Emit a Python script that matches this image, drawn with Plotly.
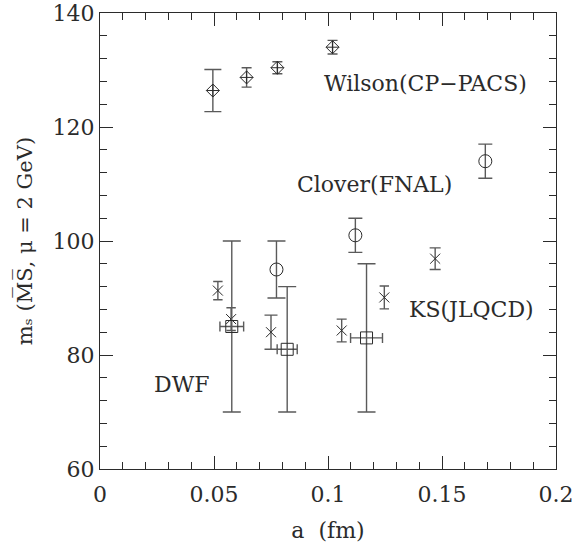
import plotly.graph_objects as go

# Strange-quark mass m_s (MS-bar, mu = 2 GeV, in MeV) versus lattice spacing a (fm)
wilson_a = [0.0495, 0.0643, 0.0778, 0.1020]
wilson_ms = [126.4, 128.7, 130.4, 134.0]
wilson_err = [3.7, 1.7, 1.05, 1.2]

clover_a = [0.0774, 0.1120, 0.1690]
clover_ms = [95.0, 101.0, 114.0]
clover_err = [5.0, 3.0, 3.0]

ks_a = [0.0517, 0.0575, 0.0750, 0.1060, 0.1247, 0.1470]
ks_ms = [91.3, 86.3, 84.0, 84.3, 90.1, 96.9]
ks_err = [1.6, 2.0, 3.0, 2.0, 2.0, 1.9]

dwf_a = [0.0578, 0.0821, 0.1169]
dwf_a_err = [0.0052, 0.0044, 0.0070]
dwf_ms = [85.0, 81.0, 83.0]
dwf_err = [15.0, 11.0, 13.0]

label_text = ["Wilson(CP\u2212PACS)", "Clover(FNAL)", "KS(JLQCD)", "DWF"]
label_a = [0.1427, 0.1205, 0.1629, 0.0358]
label_ms = [127.7, 109.9, 87.9, 74.9]

FONT = "DejaVu Serif"
INK = "#2b2b2b"
BAR = "#5a5a5a"

fig = go.Figure()


def add_series(a, ms, err, symbol, size, caps, a_err=None, xcaps=None):
    for i in range(len(a)):
        tr = go.Scatter(
            x=[a[i]], y=[ms[i]], mode="markers", showlegend=False,
            marker=dict(symbol=symbol, size=size, color=INK,
                        line=dict(color=INK, width=1)),
            error_y=dict(type="data", array=[err[i]], visible=True,
                         color=BAR, thickness=1.4, width=caps[i]),
        )
        if a_err is not None:
            tr.error_x = dict(type="data", array=[a_err[i]], visible=True,
                              color=BAR, thickness=1.4, width=xcaps[i])
        fig.add_trace(tr)


add_series(wilson_a, wilson_ms, wilson_err, "diamond-cross-open", 10, [8.5, 5, 5, 5])
add_series(clover_a, clover_ms, clover_err, "circle-open", 13, [9, 7, 7])
add_series(ks_a, ks_ms, ks_err, "x-thin-open", 10, [4.7, 4.7, 6.5, 5, 4.7, 5.5])
add_series(dwf_a, dwf_ms, dwf_err, "square-open", 12, [9, 9, 9],
           a_err=dwf_a_err, xcaps=[5, 5, 5])

# empty trace so the tick-only overlay axes get a subplot of their own
fig.add_trace(go.Scatter(x=[None], y=[None], xaxis="x2", yaxis="y2",
                         showlegend=False, hoverinfo="skip"))

for t, xa, ym in zip(label_text, label_a, label_ms):
    fig.add_annotation(x=xa, y=ym, text=t, showarrow=False, xref="x", yref="y",
                       font=dict(family=FONT, size=22, color=INK),
                       xanchor="center", yanchor="middle")

x_ticks = dict(range=[0, 0.2], tickmode="linear", tick0=0, dtick=0.05)
y_ticks = dict(range=[60, 140], tickmode="linear", tick0=60, dtick=20)
x_minor = dict(ticks="inside", ticklen=7, dtick=0.01, tickcolor=INK, tickwidth=1)
y_minor = dict(ticks="inside", ticklen=7, dtick=4, tickcolor=INK, tickwidth=1)
tick_style = dict(ticks="inside", mirror="allticks", ticklen=13,
                  tickcolor=INK, tickwidth=1, showgrid=False, zeroline=False)

fig.update_layout(
    template="none",
    width=576, height=544,
    margin=dict(l=100, r=20, t=13, b=75),
    paper_bgcolor="white", plot_bgcolor="white",
    showlegend=False,
    xaxis=dict(
        **x_ticks, **tick_style, minor=x_minor,
        showline=True, linecolor=INK, linewidth=1,
        tickfont=dict(family=FONT, size=22, color=INK),
        ticklabelstandoff=6,
        title=dict(text="a  (fm)", font=dict(family=FONT, size=22, color=INK),
                   standoff=16),
    ),
    yaxis=dict(
        **y_ticks, **tick_style, minor=y_minor,
        showline=True, linecolor=INK, linewidth=1,
        tickfont=dict(family=FONT, size=22, color=INK),
        title=dict(text="m\u209b (M\u0305S\u0305, \u03bc = 2 GeV)",
                   font=dict(family=FONT, size=21, color=INK), standoff=14),
    ),
    # tick-only axes laid over the main frame: inward ticks on all four sides
    xaxis2=dict(
        **x_ticks, **tick_style, minor=x_minor,
        overlaying="x", anchor="y2", side="bottom",
        showticklabels=False, showline=False,
    ),
    yaxis2=dict(
        **y_ticks, **tick_style, minor=y_minor,
        overlaying="y", anchor="x2", side="left",
        showticklabels=False, showline=False,
    ),
)

fig.write_html("out.html")
